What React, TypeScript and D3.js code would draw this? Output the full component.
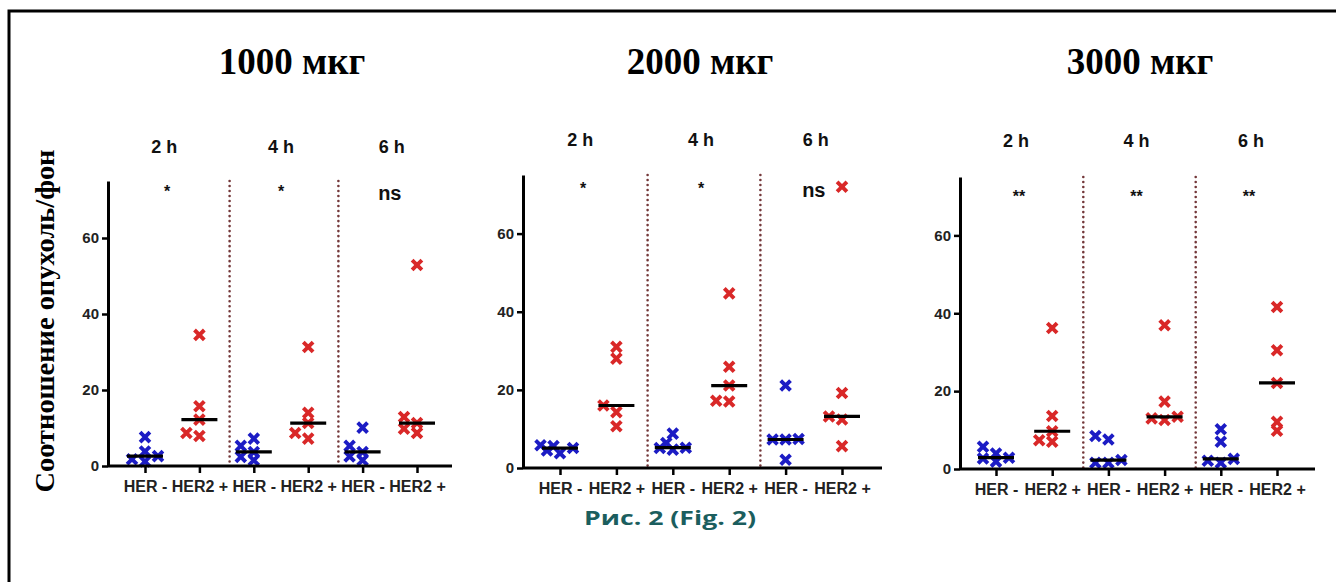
import React, { useEffect, useRef } from 'react';
import { select, scaleLinear, scalePoint, axisLeft, axisBottom, median } from 'd3';

// doses, time points, groups
const doses = ['1000 мкг', '2000 мкг', '3000 мкг'];
const times = ['2 h', '4 h', '6 h'];
const groups = ['HER -', 'HER2 +'];
const yTicks = [0, 20, 40, 60];
const yMax = 75;

// significance marks per time point
const sig1000 = ['*', '*', 'ns'];
const sig2000 = ['*', '*', 'ns'];
const sig3000 = ['**', '**', '**'];

// tumour / background ratio, one row per time point (2h, 4h, 6h)
const herNeg1000 = [[1.2, 1.8, 2.6, 3.8, 7.6], [1.5, 2.4, 3.7, 5.3, 7.2], [1.5, 2.5, 3.7, 5.3, 10.1]];
const herPos1000 = [[7.9, 8.7, 12.2, 15.7, 34.5], [7.2, 8.7, 11.3, 14.0, 31.3], [8.7, 9.8, 11.3, 12.9, 52.9]];
const herNeg2000 = [[3.8, 4.5, 5.1, 5.6, 5.8], [4.7, 5.1, 5.2, 6.4, 8.8], [2.1, 7.3, 7.3, 7.4, 21.1]];
const herPos2000 = [[10.7, 14.3, 16.0, 28.0, 31.0], [17.0, 17.2, 21.1, 25.9, 44.7], [5.6, 12.4, 13.2, 19.2, 72.0]];
const herNeg3000 = [[1.9, 2.7, 2.9, 4.0, 5.7], [1.6, 1.6, 2.3, 7.6, 8.5], [1.6, 2.1, 2.6, 7.0, 10.2]];
const herPos3000 = [[7.0, 7.4, 9.7, 13.6, 36.2], [12.6, 13.0, 13.4, 17.3, 36.9], [9.8, 12.1, 22.1, 30.5, 41.6]];

const panelData = [
  { title: doses[0], sig: sig1000, neg: herNeg1000, pos: herPos1000 },
  { title: doses[1], sig: sig2000, neg: herNeg2000, pos: herPos2000 },
  { title: doses[2], sig: sig3000, neg: herNeg3000, pos: herPos3000 },
];

// pixel layout of each panel
const layout = [
  { axisX: 108, axisEnd: 452, xr: [145, 417], yr: [466, 181], titleX: 292, headY: 153, sigY: 200 },
  { axisX: 523, axisEnd: 882, xr: [560, 842], yr: [468, 175], titleX: 700, headY: 146, sigY: 197 },
  { axisX: 960, axisEnd: 1315, xr: [996, 1277], yr: [469, 177], titleX: 1140, headY: 147, sigY: 205 },
];

const BLUE = '#1c1cc4';
const RED = '#d92828';
const SANS = '"Liberation Sans", Arial, sans-serif';
const SERIF = '"Liberation Serif", "Times New Roman", serif';

// simple beeswarm: spread points that would overlap
const swarm = (vals, y, step, minDist) => {
  const placed = [];
  const cands = [0, -step, step, -step / 2, step / 2, -1.5 * step, 1.5 * step];
  [...vals].sort((a, b) => a - b).forEach(v => {
    const py = y(v);
    const gap = c => Math.min(Infinity, ...placed.map(p => Math.hypot(p.dx - c, p.py - py)));
    let dx = cands.find(c => gap(c) >= minDist);
    if (dx === undefined) dx = cands.reduce((a, b) => (gap(b) > gap(a) ? b : a));
    placed.push({ v, py, dx });
  });
  return placed;
};

const cross = 'M-4.9,-4.9L4.9,4.9M-4.9,4.9L4.9,-4.9';

const App = () => {
  const svgRef = useRef();

  useEffect(() => {
    const svg = select(svgRef.current);
    svg.selectAll('*').remove();

    svg.append('rect').attr('width', 1336).attr('height', 582).attr('fill', '#fff');
    svg.append('rect')
      .attr('x', 9).attr('y', 11).attr('width', 1400).attr('height', 700)
      .attr('fill', 'none').attr('stroke', '#000').attr('stroke-width', 3);

    // y label
    svg.append('text')
      .attr('transform', 'translate(54,321) rotate(-90)')
      .attr('text-anchor', 'middle')
      .attr('font-family', SERIF).attr('font-weight', 'bold').attr('font-size', 27)
      .attr('textLength', 343).attr('lengthAdjust', 'spacingAndGlyphs')
      .text('Соотношение опухоль/фон');

    panelData.forEach((pd, pi) => {
      const L = layout[pi];
      const cats = times.flatMap(t => groups.map(g => `${t}|${g}`));
      const x = scalePoint().domain(cats).range(L.xr);
      const y = scaleLinear().domain([0, yMax]).range(L.yr);
      const g = svg.append('g');

      g.append('text')
        .attr('x', L.titleX).attr('y', 74)
        .attr('text-anchor', 'middle')
        .attr('font-family', SERIF).attr('font-weight', 'bold').attr('font-size', 37)
        .text(pd.title);

      // separators
      [1, 3].forEach(i => {
        const sx = (x(cats[i]) + x(cats[i + 1])) / 2 + 3;
        g.append('line')
          .attr('x1', sx).attr('x2', sx).attr('y1', y(yMax)).attr('y2', y(0))
          .attr('stroke', '#74383a').attr('stroke-width', 2.6)
          .attr('stroke-linecap', 'round').attr('stroke-dasharray', '0.01 5');
      });

      // headers and significance
      const headOff = [-8, 0, 2];
      times.forEach((t, ti) => {
        const cx = (x(`${t}|${groups[0]}`) + x(`${t}|${groups[1]}`)) / 2;
        g.append('text')
          .attr('x', cx + headOff[ti]).attr('y', L.headY)
          .attr('text-anchor', 'middle')
          .attr('font-family', SANS).attr('font-weight', 'bold').attr('font-size', 18)
          .attr('fill', '#111')
          .text(t);
        const s = pd.sig[ti];
        const ns = s === 'ns';
        g.append('text')
          .attr('x', cx + (ti === 0 ? -5 : 0)).attr('y', ns ? L.sigY : L.sigY - 3)
          .attr('text-anchor', 'middle')
          .attr('font-family', SANS).attr('font-weight', 'bold')
          .attr('font-size', ns ? 20 : 16)
          .attr('fill', '#111')
          .text(s);
      });

      // points + medians
      times.forEach((t, ti) => {
        [[groups[0], pd.neg[ti], BLUE], [groups[1], pd.pos[ti], RED]].forEach(([grp, vals, col]) => {
          const cx = x(`${t}|${grp}`);
          const pts = swarm(vals, y, 13, 8);
          g.selectAll(null)
            .data(pts)
            .enter()
            .append('path')
            .attr('d', cross)
            .attr('transform', d => `translate(${cx + d.dx},${d.py})`)
            .attr('stroke', col).attr('stroke-width', 3.9).attr('fill', 'none');
          const m = median(vals);
          g.append('line')
            .attr('x1', cx - 18).attr('x2', cx + 18)
            .attr('y1', y(m)).attr('y2', y(m))
            .attr('stroke', '#000').attr('stroke-width', 3.2);
        });
      });

      // y axis
      const ya = g.append('g')
        .attr('transform', `translate(${L.axisX},0)`)
        .call(axisLeft(y).tickValues(yTicks).tickSize(6).tickSizeOuter(0).tickPadding(3));
      ya.select('.domain').attr('stroke', '#000').attr('stroke-width', 3);
      ya.selectAll('.tick line').attr('stroke', '#000').attr('stroke-width', 2.5);
      ya.selectAll('.tick text')
        .attr('font-family', SANS).attr('font-weight', 'bold').attr('font-size', 15).attr('fill', '#222');

      // x axis
      const xa = g.append('g')
        .attr('transform', `translate(0,${y(0)})`)
        .call(axisBottom(x).tickSize(7).tickSizeOuter(0).tickPadding(8).tickFormat(d => d.split('|')[1]));
      xa.select('.domain').attr('d', `M${L.axisX},0H${L.axisEnd}`).attr('stroke', '#000').attr('stroke-width', 3);
      xa.selectAll('.tick line').attr('stroke', '#000').attr('stroke-width', 2.5);
      xa.selectAll('.tick text')
        .attr('font-family', SANS).attr('font-weight', 'bold').attr('font-size', 16).attr('fill', '#222');
    });

    svg.append('text')
      .attr('x', 670).attr('y', 525)
      .attr('text-anchor', 'middle')
      .attr('font-family', '"Open Sans", "DejaVu Sans", sans-serif').attr('font-weight', 'bold').attr('font-size', 20)
      .attr('fill', '#1b5e5e')
      .attr('textLength', 172).attr('lengthAdjust', 'spacingAndGlyphs')
      .text('Рис. 2 (Fig. 2)');
  }, []);

  return (
    <svg ref={svgRef} width={1336} height={582} style={{ position: 'absolute', left: 0, top: 0 }} />
  );
};

export default App;
